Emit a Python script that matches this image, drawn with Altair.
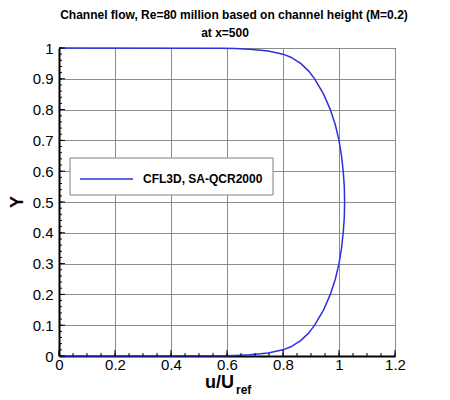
import pandas as pd
import altair as alt

# velocity profile (u/Uref against Y)
y_pos = [0, 0.0005, 0.001, 0.002, 0.004, 0.007, 0.01, 0.02, 0.03, 0.05, 0.075,
         0.1, 0.15, 0.2, 0.25, 0.3, 0.35, 0.4, 0.45, 0.5,
         0.55, 0.6, 0.65, 0.7, 0.75, 0.8, 0.85, 0.9, 0.925, 0.95, 0.97,
         0.98, 0.99, 0.993, 0.996, 0.998, 0.999, 0.9995, 1.0]
u_vel = [0, 0.53, 0.58, 0.63, 0.68, 0.72, 0.747, 0.80, 0.828, 0.863, 0.892,
         0.913, 0.945, 0.969, 0.987, 1.000, 1.009, 1.015, 1.019, 1.020,
         1.019, 1.015, 1.009, 1.000, 0.987, 0.969, 0.945, 0.913, 0.892, 0.863, 0.828,
         0.80, 0.747, 0.72, 0.68, 0.63, 0.58, 0.53, 0]

series_name = "CFL3D, SA-QCR2000"
title_lines = ["Channel flow, Re=80 million based on channel height (M=0.2)", "at x=500"]

x_major = [0, 0.2, 0.4, 0.6, 0.8, 1.0, 1.2]
y_major = [0, 0.1, 0.2, 0.3, 0.4, 0.5, 0.6, 0.7, 0.8, 0.9, 1.0]
x_minor = [round(i * 0.05, 2) for i in range(25)]
y_minor = [round(i * 0.02, 2) for i in range(51)]

FONT = "Liberation Sans"
BLUE = "#2f2fe0"
W, H = 336, 308

profile = pd.DataFrame({"u": u_vel, "y": y_pos, "k": range(len(y_pos))})

xs = alt.Scale(domain=[0, 1.2], nice=False, zero=False)
ys = alt.Scale(domain=[0, 1], nice=False, zero=False)

# main line + labelled axes + grid
line = alt.Chart(profile).mark_line(strokeWidth=1.5, color=BLUE).encode(
    x=alt.X("u:Q", scale=xs, axis=alt.Axis(
        values=x_major, format="~g", title=None, ticks=False,
        grid=True, gridColor="#8c8c8c", gridWidth=1, gridOpacity=1,
        domainColor="black", domainWidth=2,
        labelFont=FONT, labelFontSize=15, labelColor="black", labelPadding=1,
        labelFlush=False, labelOverlap=False)),
    y=alt.Y("y:Q", scale=ys, axis=alt.Axis(
        values=y_major, format="~g", title=None, ticks=False,
        grid=True, gridColor="#8c8c8c", gridWidth=1, gridOpacity=1,
        domainColor="black", domainWidth=2,
        labelFont=FONT, labelFontSize=15, labelColor="black", labelPadding=6,
        labelFlush=False, labelOverlap=False)),
    order=alt.Order("k:Q"),
)

# inward tick marks along the bottom and left edges
def x_ticks(vals, size):
    return alt.Chart(pd.DataFrame({"v": vals})).mark_tick(
        orient="vertical", size=size, thickness=1, color="black", opacity=1
    ).encode(x=alt.X("v:Q", scale=xs, axis=None), y=alt.value(H - size / 2))

def y_ticks(vals, size):
    return alt.Chart(pd.DataFrame({"v": vals})).mark_tick(
        orient="horizontal", size=size, thickness=1, color="black", opacity=1
    ).encode(y=alt.Y("v:Q", scale=ys, axis=None), x=alt.value(size / 2))

def label(text, x, y, size, align="center", angle=0):
    return alt.Chart(pd.DataFrame({"t": [text]})).mark_text(
        font=FONT, fontSize=size, fontWeight="bold", color="black",
        align=align, baseline="alphabetic", angle=angle,
    ).encode(text="t:N", x=alt.value(x), y=alt.value(y))

# legend box drawn by hand
one = pd.DataFrame({"t": [series_name]})
legend_box = alt.Chart(one).mark_rect(fill="white", stroke="#808080", strokeWidth=1).encode(
    x=alt.value(11), x2=alt.value(214), y=alt.value(110), y2=alt.value(147))
legend_line = alt.Chart(one).mark_rule(color=BLUE, strokeWidth=1.5).encode(
    x=alt.value(21), x2=alt.value(74), y=alt.value(131))
legend_text = alt.Chart(one).mark_text(
    font=FONT, fontSize=12, fontWeight="bold", color="black", align="left", baseline="middle"
).encode(text="t:N", x=alt.value(84), y=alt.value(131))

title1 = label(title_lines[0], 175, -29, 12)
title2 = label(title_lines[1], 166, -11, 12)
xtitle = label("u/U", 146, 340, 18, align="left")
xsub = label("ref", 177, 346, 12, align="left")
ytitle = label("Y", -36, 154, 18, angle=270)

chart = alt.layer(
    line,
    x_ticks(x_minor, 3), x_ticks(x_major, 6),
    y_ticks(y_minor, 3), y_ticks(y_major, 6),
    legend_box, legend_line, legend_text,
    title1, title2, xtitle, xsub, ytitle
).resolve_axis(
    x="independent", y="independent"
).properties(
    width=W, height=H,
    autosize=alt.AutoSizeParams(type="none"),
    padding={"left": 51, "top": 40, "right": 40, "bottom": 50},
).configure_view(
    stroke="black", strokeWidth=1
)

chart.save("out.html", embed_options={"renderer": "svg", "actions": False})
